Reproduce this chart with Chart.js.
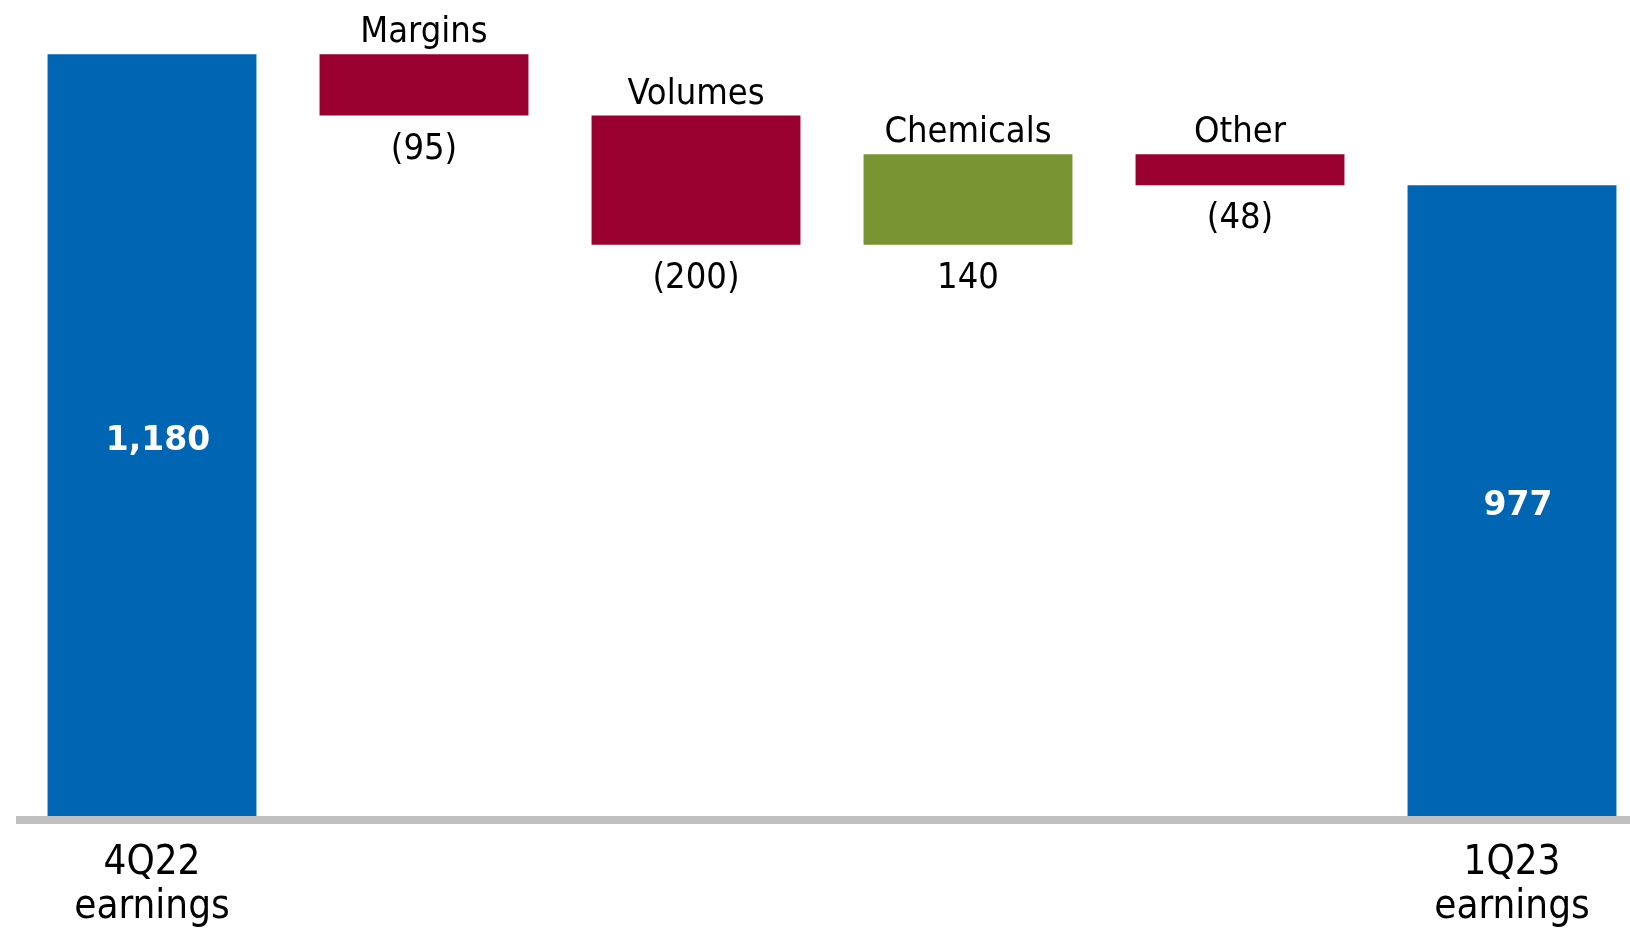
<!DOCTYPE html>
<html>
<head>
<meta charset="utf-8">
<script src="https://cdn.jsdelivr.net/npm/chart.js@4.4.1/dist/chart.umd.min.js"></script>
<style>
  html, body { margin: 0; padding: 0; background: #fff; overflow: hidden; }
  /* the plot runs a little past the right and bottom edges of the window, like the original slide */
  #wrap { position: absolute; left: 0; top: 0; width: 1648px; height: 956px; }
</style>
</head>
<body>
<div id="wrap"><canvas id="bridge"></canvas></div>
<script>
// --- data ---------------------------------------------------------------
const categories = ['4Q22 earnings', 'Margins', 'Volumes', 'Chemicals', 'Other', '1Q23 earnings'];
const tickLabels = [['4Q22', 'earnings'], '', '', '', '', ['1Q23', 'earnings']];
const barNames = ['', 'Margins', 'Volumes', 'Chemicals', 'Other', ''];
const changes = [1180, -95, -200, 140, -48, 977];
const isTotal = [true, false, false, false, false, true];

const BLUE = '#0066B3';
const RED = '#990030';
const GREEN = '#789433';
const FONT = '"DejaVu Sans Condensed", "DejaVu Sans", sans-serif';

// floating bars [start, end] for the bridge
let running = 0;
const floating = changes.map((v, i) => {
  if (isTotal[i]) { running = v; return [0, v]; }
  const start = running;
  running += v;
  return [start, running];
});
const colors = changes.map((v, i) => isTotal[i] ? BLUE : (v < 0 ? RED : GREEN));

function fmt(v) {
  const s = Math.abs(v).toLocaleString('en-US');
  return v < 0 ? '(' + s + ')' : s;
}

// names above, values below, totals inside + grey base line
const bridgeLabels = {
  id: 'bridgeLabels',
  afterDatasetsDraw(chart) {
    const ctx = chart.ctx;
    const area = chart.chartArea;
    const meta = chart.getDatasetMeta(0);
    ctx.save();
    ctx.fillStyle = '#C0C0C0';
    ctx.fillRect(area.left, area.bottom, chart.width - area.left, 8);

    ctx.textAlign = 'center';
    meta.data.forEach((bar, i) => {
      const top = Math.min(bar.y, bar.base);
      const bottom = Math.max(bar.y, bar.base);
      if (isTotal[i]) {
        ctx.font = 'bold 33px "DejaVu Sans", sans-serif';
        ctx.fillStyle = '#FFFFFF';
        ctx.textBaseline = 'middle';
        ctx.fillText(fmt(changes[i]), bar.x + 6, (top + bottom) / 2 + 6);
      } else {
        ctx.font = '36px ' + FONT;
        ctx.fillStyle = '#000000';
        ctx.textBaseline = 'alphabetic';
        ctx.fillText(barNames[i], bar.x, top - 12);
        ctx.fillText(fmt(changes[i]), bar.x, bottom + 43);
      }
    });
    ctx.restore();
  }
};

new Chart(document.getElementById('bridge'), {
  type: 'bar',
  data: {
    labels: categories,
    datasets: [{
      data: floating,
      backgroundColor: colors,
      borderWidth: 0,
      barPercentage: 0.768,
      categoryPercentage: 1.0
    }]
  },
  options: {
    responsive: true,
    maintainAspectRatio: false,
    animation: false,
    layout: { padding: { left: 16, right: 0, top: 0, bottom: 0 } },
    plugins: {
      legend: { display: false },
      tooltip: { enabled: false }
    },
    scales: {
      x: {
        grid: { display: false, drawTicks: false },
        border: { display: false },
        ticks: {
          autoSkip: false,
          maxRotation: 0,
          padding: 26,
          color: '#000000',
          font: { family: FONT, size: 40, lineHeight: 1.1 },
          callback: (val, idx) => tickLabels[idx]
        }
      },
      y: {
        display: false,
        min: 0,
        max: 1264
      }
    }
  },
  plugins: [bridgeLabels]
});
</script>
</body>
</html>
